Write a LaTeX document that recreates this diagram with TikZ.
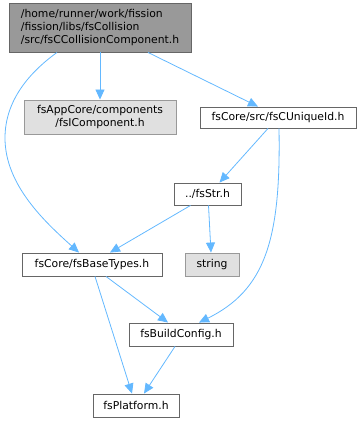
\documentclass[tikz,border=0pt]{standalone}
\usepackage{fontspec}
\setmainfont{DejaVu Sans}
\usetikzlibrary{arrows.meta,positioning,calc}
\definecolor{dxedge}{RGB}{99,184,255}
\definecolor{dxdark}{RGB}{102,102,102}
\definecolor{dxmid}{RGB}{153,153,153}
\definecolor{dxlight}{RGB}{224,224,224}
\tikzset{
  incarr/.style={-{Triangle[length=10pt,width=9pt]}, dxedge, line width=0.8pt},
  hfile/.style={draw=dxdark, fill=white, line width=0.9pt, inner sep=2pt,
              minimum height=23pt, align=center, font=\fontsize{10.8}{13}\selectfont},
  sysfile/.style={hfile, draw=dxmid, fill=dxlight},
  rootfile/.style={hfile, fill=dxmid, align=left},
}

\begin{document}
\begin{tikzpicture}[x=1pt, y=-1pt]
    \useasboundingbox (0,0) rectangle (363,423);
    \node[rootfile, minimum width=182pt, minimum height=49pt] (root) at (100,27.5)
         {/home/runner/work/fission\\/fission/libs/fsCollision\\/src/fsCCollisionComponent.h};
    \node[sysfile, minimum width=152pt, minimum height=34pt] (comp) at (100,117)
         {fsAppCore/components\\/fsIComponent.h};
    \node[hfile, minimum width=156pt, minimum height=21pt] (uniq) at (278,117.5)
         {fsCore/src/fsCUniqueId.h};
    \node[hfile, minimum width=67pt, minimum height=22pt] (str) at (207.5,194) {../fsStr.h};
    \node[hfile, minimum width=140pt] (base) at (92,264.5) {fsCore/fsBaseTypes.h};
    \node[sysfile, minimum width=54pt] (strg) at (212,264.5) {string};
    \node[hfile, minimum width=104pt] (build) at (181,334.5) {fsBuildConfig.h};
    \node[hfile, minimum width=86pt] (plat) at (136,405.5) {fsPlatform.h};

    \draw[incarr] (root.south) -- (comp.north);
    \draw[incarr] ([xshift=48pt]root.south) -- ([xshift=-20pt]uniq.north);
    \draw[incarr] ([xshift=-43pt]root.south) .. controls (30,72) and (5,100) .. (5,138)
          .. controls (5,185) and (45,222) .. ([xshift=-13pt]base.north);
    \draw[incarr] ([xshift=-10pt]uniq.south) -- ([xshift=12pt]str.north);
    \draw[incarr] ([xshift=1pt]uniq.south) .. controls (281,240) and (265,290)
          .. ([xshift=18pt]build.north);
    \draw[incarr] ([xshift=-17pt]str.south) -- ([xshift=18pt]base.north);
    \draw[incarr] ([xshift=1pt]str.south) -- ([xshift=-1pt]strg.north);
    \draw[incarr] ([xshift=14pt]base.south) -- ([xshift=-13pt]build.north);
    \draw[incarr] ([xshift=3pt]base.south) -- ([xshift=-4pt]plat.north);
    \draw[incarr] ([xshift=-6pt]build.south) -- ([xshift=8pt]plat.north);
  \end{tikzpicture}
\end{document}
